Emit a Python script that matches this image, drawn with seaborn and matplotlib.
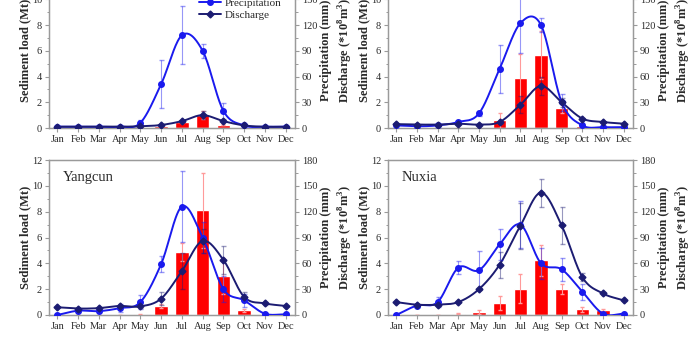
import numpy as np
import pandas as pd
import seaborn as sns
import matplotlib.pyplot as plt
from matplotlib.lines import Line2D

# ---- data (precipitation in mm, discharge in 10^8 m^3, sediment in Mt)
months = ['Jan', 'Feb', 'Mar', 'Apr', 'May', 'Jun', 'Jul', 'Aug', 'Sep', 'Oct', 'Nov', 'Dec']
month_num = list(range(1, 13))

# top-left station (name cut off in the reference)
tl_precip = [1.5, 1.5, 1.5, 1.5, 6, 51, 108, 90, 20, 3, 1.5, 1.5]
tl_precip_err = [0, 0, 0, 0, 3, 28, 34, 8, 9, 1, 0, 0]
tl_dis = [1.5, 1.5, 1.5, 1.5, 2, 3.5, 8, 15, 8, 3, 1.5, 1.5]
tl_dis_err = [0, 0, 0, 0, 0, 1, 1.5, 4.5, 1, 0, 0, 0]
tl_sed = [0.02, 0.02, 0.02, 0.02, 0.05, 0.15, 0.5, 1.0, 0.25, 0.03, 0.02, 0.02]
tl_sed_err = [0, 0, 0, 0, 0, 0.05, 0.1, 0.3, 0.05, 0, 0, 0]

# top-right station (name cut off in the reference)
tr_precip = [3, 2, 3, 7, 17, 69, 122, 120, 30, 3, 1, 1]
tr_precip_err = [0, 0, 0, 1, 3, 28, 35, 8, 10, 1, 0, 0]
tr_dis = [4.5, 4, 4, 5, 4, 7, 27, 49, 30, 11, 7, 5]
tr_dis_err = [0, 0, 0, 0, 0, 2, 10, 10, 5, 1, 0, 0]
tr_sed = [0.02, 0.02, 0.02, 0.03, 0.05, 0.6, 3.85, 5.65, 1.55, 0.12, 0.02, 0.02]
tr_sed_err = [0, 0, 0, 0, 0.02, 0.6, 1.9, 1.85, 0.4, 0.05, 0, 0]

# Yangcun
yc_precip = [0, 5, 4.5, 8, 15, 59, 126, 90, 30, 17, 1.5, 0.8]
yc_precip_err = [0, 1.5, 1.5, 4.5, 8, 9, 41, 18, 15, 7.5, 1, 0]
yc_dis = [9, 7.5, 8, 10.5, 10, 19, 51, 86, 64, 21, 13.5, 10.5]
yc_dis_err = [0, 0, 0, 1.5, 1.5, 7.5, 21, 13.5, 16.5, 6, 1.5, 0]
yc_sed = [0.02, 0.02, 0.02, 0.03, 0.05, 0.7, 4.85, 8.1, 3.0, 0.35, 0.05, 0.02]
yc_sed_err = [0, 0, 0, 0, 0.02, 0.15, 0.7, 2.9, 1.4, 0.1, 0, 0]

# Nuxia
nx_precip = [0, 11, 15, 55, 52, 82, 105, 60, 53, 27, 1.5, 1.5]
nx_precip_err = [0, 1.5, 6, 7.5, 22, 18, 27, 18, 13, 9, 1.5, 0]
nx_dis = [15, 12, 12, 15, 30, 58.5, 103.5, 142, 104, 44, 25, 17]
nx_dis_err = [1, 0, 0, 0, 1.5, 15, 27, 16, 22, 4.5, 2, 1]
nx_sed = [0.02, 0.02, 0.02, 0.1, 0.25, 0.9, 2.05, 4.25, 2.0, 0.45, 0.4, 0.02]
nx_sed_err = [0, 0, 0, 0.05, 0.15, 0.55, 1.15, 1.2, 0.4, 0.2, 0.1, 0]

sns.set_theme(style='ticks')
plt.rcParams['font.family'] = ['Liberation Serif', 'DejaVu Serif']
plt.rcParams['mathtext.fontset'] = 'custom'
plt.rcParams['mathtext.rm'] = 'Liberation Serif'
plt.rcParams['mathtext.bf'] = 'Liberation Serif:bold'

PRE_C = '#1a1aee'
DIS_C = '#1c1c72'
BAR_C = '#ff0000'
SPINE_C = '#9a9a9a'
TXT_C = '#2a2a2a'


def smooth_line(x, y, n=30):
    # Catmull-Rom curve through the points, only used to draw the connecting line
    x = np.asarray(x, float)
    y = np.asarray(y, float)
    m = np.gradient(y, x)
    xs, ys = [], []
    for i in range(len(x) - 1):
        t = np.linspace(0, 1, n, endpoint=False)
        h = x[i + 1] - x[i]
        h00 = 2 * t**3 - 3 * t**2 + 1
        h10 = t**3 - 2 * t**2 + t
        h01 = -2 * t**3 + 3 * t**2
        h11 = t**3 - t**2
        xs.append(x[i] + h * t)
        ys.append(h00 * y[i] + h10 * h * m[i] + h01 * y[i + 1] + h11 * h * m[i + 1])
    xs.append([x[-1]])
    ys.append([y[-1]])
    return np.concatenate(xs), np.concatenate(ys)


def style_axis(a):
    for s in a.spines.values():
        s.set_color(SPINE_C)
        s.set_linewidth(0.9)
    a.tick_params(colors=SPINE_C, labelcolor=TXT_C, labelsize=7.5, length=3, width=0.8, pad=2)
    a.tick_params(which='minor', colors=SPINE_C, length=1.8, width=0.7)


def panel(rect, precip, precip_err, dis, dis_err, sed, sed_err, name=None, legend=False):
    ax = fig.add_axes(rect)
    df = pd.DataFrame({'month': month_num, 'sed': sed})
    sns.barplot(data=df, x='month', y='sed', native_scale=True, color=BAR_C,
                saturation=1, width=0.65, errorbar=None, ax=ax, zorder=2)
    ax.errorbar(month_num, sed, yerr=sed_err, fmt='none', ecolor='#ff9a9a',
                elinewidth=0.8, capsize=1.5, zorder=3)
    ax.set_xlim(0.6, 12.45)
    ax.set_ylim(0, 12)
    ax.set_yticks(range(0, 13, 2))
    ax.set_yticks(range(1, 13, 2), minor=True)
    ax.set_xticks(month_num)
    ax.set_xticklabels(months)
    ax.set_xlabel('')
    ax.set_ylabel('Sediment load (Mt)', fontsize=9, fontweight='bold', color=TXT_C, labelpad=0.5)
    style_axis(ax)

    ax2 = ax.twinx()
    for vals, errs, col, mk, ms in [(precip, precip_err, PRE_C, 'o', 4),
                                    (dis, dis_err, DIS_C, 'D', 3.5)]:
        xs, ys = smooth_line(month_num, vals)
        ax2.plot(xs, ys, color=col, lw=1.4, zorder=3)
        eb = ax2.errorbar(month_num, vals, yerr=errs, fmt=mk, color=col, ms=ms,
                          ecolor=col, elinewidth=0.8, capsize=1.8, zorder=4)
        for part in list(eb[1]) + list(eb[2]):
            part.set_alpha(0.45)
    ax2.set_ylim(0, 180)
    ax2.set_yticks(range(0, 181, 30))
    ax2.set_yticks(range(15, 181, 30), minor=True)
    ax2.set_ylabel('Precipitation (mm)\nDischarge (*10$^\\mathbf{8}$m$^\\mathbf{3}$)',
                   fontsize=9, fontweight='bold', color=TXT_C, labelpad=2, linespacing=1.35)
    style_axis(ax2)

    if name:
        ax.text(0.055, 0.885, name, transform=ax.transAxes, fontsize=10.5,
                color=TXT_C, va='center', ha='left')
    if legend:
        handles = [Line2D([], [], color=PRE_C, marker='o', ms=4, lw=1.4),
                   Line2D([], [], color=DIS_C, marker='D', ms=3.5, lw=1.4)]
        leg = ax2.legend(handles, ['Precipitation', 'Discharge'], loc='center left',
                         bbox_to_anchor=(0.57, 0.77), frameon=False, fontsize=8,
                         handlelength=2.0, labelspacing=0.25, handletextpad=0.3)
        for t in leg.get_texts():
            t.set_color(TXT_C)
    return ax


W, H = 699, 350
fig = plt.figure(figsize=(W / 100, H / 100), dpi=100)


def rect(left, right, bottom, top):
    return [left / W, (H - bottom) / H, (right - left) / W, (bottom - top) / H]


panel(rect(49, 295, 128, -26.5), tl_precip, tl_precip_err, tl_dis, tl_dis_err,
      tl_sed, tl_sed_err, legend=True)
panel(rect(388, 633, 128, -26.5), tr_precip, tr_precip_err, tr_dis, tr_dis_err,
      tr_sed, tr_sed_err)
panel(rect(49, 295, 315, 160), yc_precip, yc_precip_err, yc_dis, yc_dis_err,
      yc_sed, yc_sed_err, name='Yangcun')
panel(rect(388, 633, 315, 160), nx_precip, nx_precip_err, nx_dis, nx_dis_err,
      nx_sed, nx_sed_err, name='Nuxia')

fig.savefig('out.png', dpi=100, facecolor='white')
